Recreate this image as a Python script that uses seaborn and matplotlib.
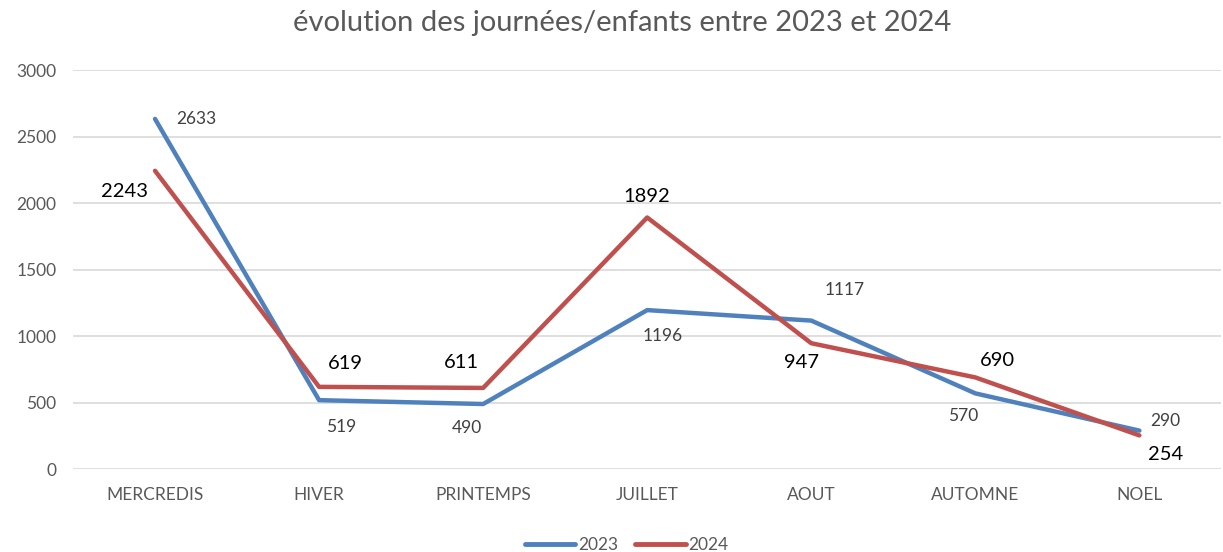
import pandas as pd
import matplotlib.pyplot as plt
import seaborn as sns

# Data
periods = ["MERCREDIS", "HIVER", "PRINTEMPS", "JUILLET", "AOUT", "AUTOMNE", "NOEL"]
values_2023 = [2633, 519, 490, 1196, 1117, 570, 290]
values_2024 = [2243, 619, 611, 1892, 947, 690, 254]

df = pd.DataFrame({
    "periode": periods * 2,
    "valeur": values_2023 + values_2024,
    "annee": ["2023"] * len(periods) + ["2024"] * len(periods),
})

sns.set_style("white")
plt.rcParams["font.family"] = ["Lato", "DejaVu Sans"]

colors = {"2023": "#4F81BD", "2024": "#C0504D"}

fig = plt.figure(figsize=(12.23, 5.52), dpi=100)
ax = fig.add_axes([0.0597, 0.150, 0.939, 0.723])

sns.lineplot(data=df, x="periode", y="valeur", hue="annee", palette=colors,
             linewidth=3.2, sort=False, ax=ax, legend=True)

ax.set_xlim(-0.5, len(periods) - 0.5)
ax.set_ylim(0, 3000)
ax.set_yticks(range(0, 3001, 500))
ax.yaxis.grid(True, color="#D9D9D9", linewidth=1.2)
ax.set_axisbelow(True)
for s in ax.spines.values():
    s.set_visible(False)
ax.tick_params(axis="both", length=0, colors="#595959", labelsize=12.5)
ax.tick_params(axis="x", pad=13)
ax.tick_params(axis="y", pad=12)
ax.set_xlabel("")
ax.set_ylabel("")

# data labels (offsets in points)
off_2023 = [(30, 0), (16, -19), (-12, -17), (11, -19), (24, 22), (-9, -16), (19, 7)]
off_2024 = [(-22, -15), (19, 17), (-16, 18), (0, 15), (-7, -14), (16, 12), (19, -14)]
for i, v in enumerate(values_2023):
    ax.annotate(str(v), (i, v), xytext=off_2023[i], textcoords="offset points",
                ha="center", va="center", fontsize=12.5, color="#404040")
for i, v in enumerate(values_2024):
    ax.annotate(str(v), (i, v), xytext=off_2024[i], textcoords="offset points",
                ha="center", va="center", fontsize=14.5, color="#000000")

fig.suptitle("évolution des journées/enfants entre 2023 et 2024",
             fontsize=21, color="#595959", x=0.509, y=0.982, va="top")

leg = ax.legend(loc="upper center", bbox_to_anchor=(0.482, -0.13), ncol=2,
                frameon=False, fontsize=12.5, handlelength=2.9,
                handletextpad=0.15, columnspacing=1.0)
for t in leg.get_texts():
    t.set_color("#595959")
for line in leg.get_lines():
    line.set_linewidth(3.5)

fig.savefig("out.png", dpi=100)
